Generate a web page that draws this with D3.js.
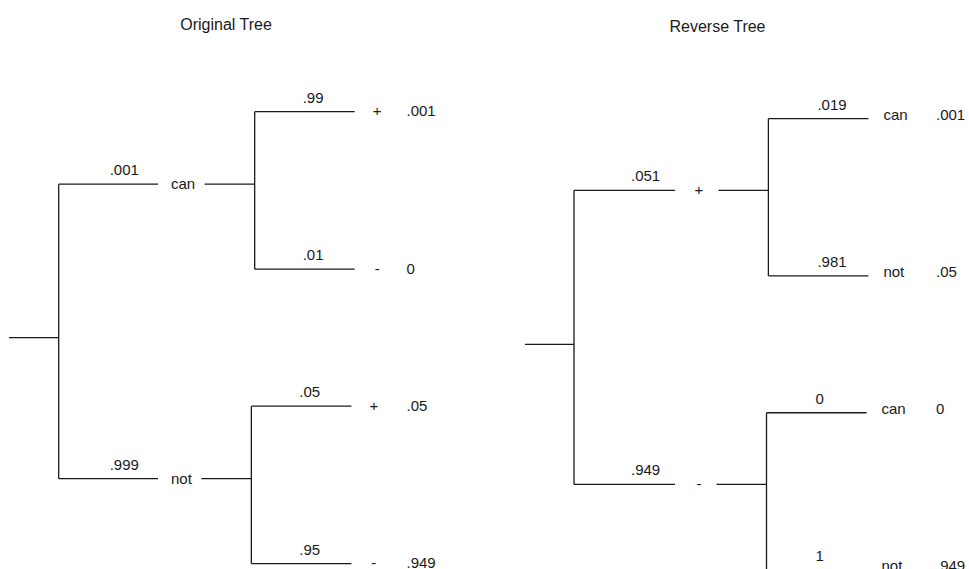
<!DOCTYPE html>
<html>
<head>
<meta charset="utf-8">
<script src="https://cdn.jsdelivr.net/npm/d3@7"></script>
<style>
  body { margin: 0; background: #fff; }
  svg { display: block; font-family: "Liberation Sans", Arial, sans-serif; }
  text { fill: #1a1a1a; font-size: 15px; }
  .title { font-size: 16px; }
  .link { stroke: #1a1a1a; stroke-width: 1.3; fill: none; }
</style>
</head>
<body>
<script>

// original tree: cancer status first, then test result
var origTitle = "Original Tree";
var origFirst = ["can", "not"];
var origFirstProb = [".001", ".999"];
var origSecond = [["+", "-"], ["+", "-"]];
var origSecondProb = [[".99", ".01"], [".05", ".95"]];
var origJoint = [[".001", "0"], [".05", ".949"]];

// reverse tree: test result first, then cancer status
var revTitle = "Reverse Tree";
var revFirst = ["+", "-"];
var revFirstProb = [".051", ".949"];
var revSecond = [["can", "not"], ["can", "not"]];
var revSecondProb = [[".019", ".981"], ["0", "1"]];
var revJoint = [[".001", ".05"], ["0", ".949"]];

var width = 969,
    height = 569;

var svg = d3.select("body")
            .append("svg")
            .attr("width", width)
            .attr("height", height);

// turn the arrays into a nested object for d3.hierarchy
function buildData(first, firstProb, second, secondProb, joint) {
    return {
        children: first.map(function(name, i) {
            return {
                name: name,
                prob: firstProb[i],
                children: second[i].map(function(leaf, j) {
                    return {name: leaf, prob: secondProb[i][j], joint: joint[i][j]};
                })
            };
        })
    };
}

// layout settings for each of the two trees
var leftCfg = {
    title: origTitle, titleX: 226, titleY: 30,
    stubX: 9, rootX: 58.7, top: 111.7, bottom: 563.7, midShift: -6.3,
    branch: 99.3, probPad: [51, 48], probLift: 9,
    nodeAnchor: "start", nodePad: 13, nodeGap: 9.5, nodeDy: "0.35em",
    connector: 50, leafBranch: 100,
    leafAnchor: "middle", leafPad: 22.5, leafDy: "0.31em", jointX: 406.5
};

var rightCfg = {
    title: revTitle, titleX: 717.5, titleY: 32,
    stubX: 525, rootX: 574, top: 118.7, bottom: 570, midShift: -7,
    branch: 101, probPad: [57, 49], probLift: 9,
    nodeAnchor: "middle", nodePad: 24, nodeGap: 15, nodeDy: "0.32em",
    connector: 50, leafBranch: 100,
    leafAnchor: "start", leafPad: 15, leafDy: "0.09em", jointX: 936
};

function drawTree(data, cfg) {

    var root = d3.hierarchy(data);

    d3.cluster()
        .nodeSize([1, 1])
        .separation(function(a, b) { return a.parent === b.parent ? 1 : 0.87; })(root);

    var leaves = root.leaves();
    var y = d3.scaleLinear()
              .domain([leaves[0].x, leaves[leaves.length - 1].x])
              .range([cfg.top, cfg.bottom]);

    root.each(function(d) {
        d.py = y(d.x) + (d.depth === 1 ? cfg.midShift : 0);
    });

    var g = svg.append("g");

    g.append("text")
        .attr("class", "title")
        .attr("x", cfg.titleX)
        .attr("y", cfg.titleY)
        .attr("text-anchor", "middle")
        .text(cfg.title);

    // root stub and the split into the first level
    g.append("line")
        .attr("class", "link")
        .attr("x1", cfg.stubX).attr("x2", cfg.rootX)
        .attr("y1", root.py).attr("y2", root.py);

    g.append("line")
        .attr("class", "link")
        .attr("x1", cfg.rootX).attr("x2", cfg.rootX)
        .attr("y1", root.children[0].py)
        .attr("y2", root.children[root.children.length - 1].py);

    root.children.forEach(function(d) {
        var bx = cfg.rootX + cfg.branch;

        g.append("line")
            .attr("class", "link")
            .attr("x1", cfg.rootX).attr("x2", bx)
            .attr("y1", d.py).attr("y2", d.py);

        g.append("text")
            .attr("x", cfg.rootX + cfg.probPad[0])
            .attr("y", d.py - cfg.probLift)
            .text(d.data.prob);

        var lx = bx + cfg.nodePad;
        var label = g.append("text")
            .attr("x", lx)
            .attr("y", d.py)
            .attr("dy", cfg.nodeDy)
            .attr("text-anchor", cfg.nodeAnchor)
            .text(d.data.name);

        // connector starts right after the label
        var w = label.node().getComputedTextLength();
        var end = cfg.nodeAnchor === "start" ? lx + w : lx + w / 2;
        var cx0 = end + cfg.nodeGap,
            cx1 = cx0 + cfg.connector;

        g.append("line")
            .attr("class", "link")
            .attr("x1", cx0).attr("x2", cx1)
            .attr("y1", d.py).attr("y2", d.py);

        g.append("line")
            .attr("class", "link")
            .attr("x1", cx1).attr("x2", cx1)
            .attr("y1", d.children[0].py)
            .attr("y2", d.children[d.children.length - 1].py);

        d.children.forEach(function(leaf) {
            var ex = cx1 + cfg.leafBranch;

            g.append("line")
                .attr("class", "link")
                .attr("x1", cx1).attr("x2", ex)
                .attr("y1", leaf.py).attr("y2", leaf.py);

            g.append("text")
                .attr("x", cx1 + cfg.probPad[1])
                .attr("y", leaf.py - cfg.probLift)
                .text(leaf.data.prob);

            g.append("text")
                .attr("x", ex + cfg.leafPad)
                .attr("y", leaf.py)
                .attr("dy", cfg.leafDy)
                .attr("text-anchor", cfg.leafAnchor)
                .text(leaf.data.name);

            g.append("text")
                .attr("x", cfg.jointX)
                .attr("y", leaf.py)
                .attr("dy", cfg.leafDy)
                .text(leaf.data.joint);
        });
    });
}

drawTree(buildData(origFirst, origFirstProb, origSecond, origSecondProb, origJoint), leftCfg);
drawTree(buildData(revFirst, revFirstProb, revSecond, revSecondProb, revJoint), rightCfg);

</script>
</body>
</html>
